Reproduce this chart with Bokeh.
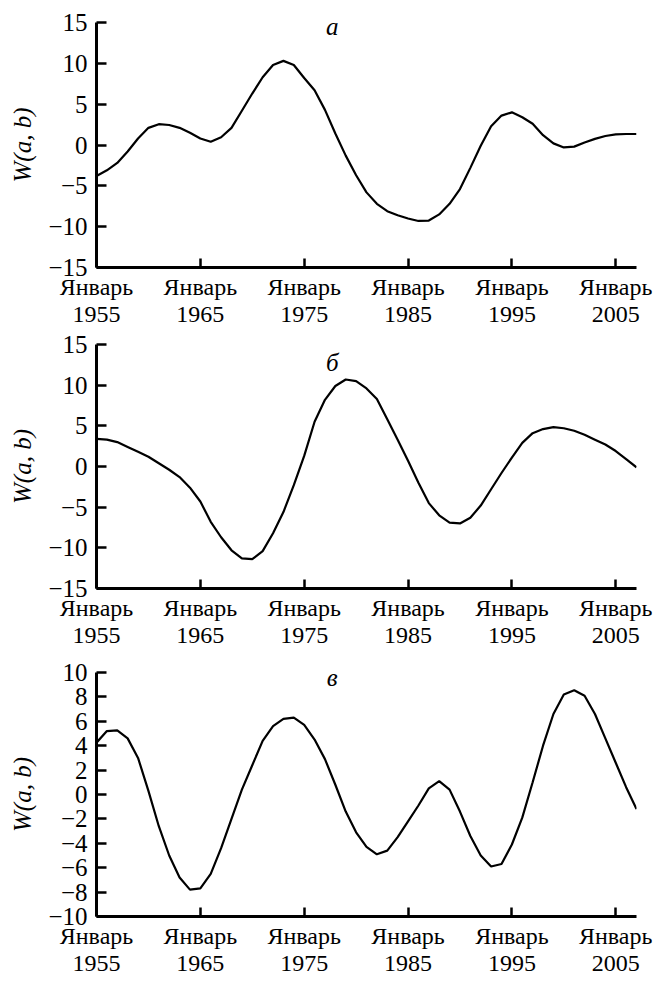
from bokeh.plotting import figure
from bokeh.layouts import column
from bokeh.models import FixedTicker, Range1d, Label
from bokeh.embed import file_html
from bokeh.resources import INLINE

years = list(range(1955, 2008))

series_a = [-3.8, -3.1, -2.2, -0.8, 0.8, 2.1, 2.55, 2.45, 2.1, 1.5,
            0.8, 0.4, 0.95, 2.1, 4.2, 6.3, 8.3, 9.8, 10.3, 9.8,
            8.2, 6.7, 4.3, 1.4, -1.3, -3.7, -5.8, -7.2, -8.1, -8.6,
            -9.0, -9.3, -9.25, -8.5, -7.2, -5.4, -2.8, -0.1, 2.3, 3.6,
            4.0, 3.4, 2.6, 1.2, 0.2, -0.3, -0.2, 0.3, 0.75, 1.1,
            1.3, 1.35, 1.35]

series_b = [3.4, 3.3, 3.0, 2.4, 1.8, 1.2, 0.4, -0.4, -1.3, -2.6,
            -4.3, -6.8, -8.7, -10.3, -11.3, -11.4, -10.4, -8.2, -5.6, -2.3,
            1.3, 5.5, 8.2, 9.9, 10.7, 10.5, 9.6, 8.3, 5.8, 3.3,
            0.7, -2.0, -4.5, -6.0, -6.9, -7.0, -6.3, -4.8, -2.8, -0.8,
            1.1, 2.9, 4.1, 4.6, 4.85, 4.7, 4.4, 3.9, 3.3, 2.7,
            1.9, 0.9, -0.1]

series_c = [4.25, 5.2, 5.25, 4.6, 3.0, 0.3, -2.6, -5.0, -6.8, -7.8,
            -7.7, -6.5, -4.4, -2.0, 0.4, 2.4, 4.4, 5.6, 6.2, 6.3,
            5.7, 4.5, 2.9, 0.8, -1.4, -3.1, -4.3, -4.9, -4.6, -3.5,
            -2.2, -0.9, 0.5, 1.1, 0.4, -1.4, -3.4, -5.0, -5.9, -5.7,
            -4.1, -1.9, 1.0, 4.0, 6.6, 8.2, 8.55, 8.1, 6.6, 4.6,
            2.6, 0.6, -1.2]

x_ticks = [1955, 1965, 1975, 1985, 1995, 2005]
x_tick_word = "Январь"
y_ticks_ab = [-15, -10, -5, 0, 5, 10, 15]
y_ticks_c = [-10, -8, -6, -4, -2, 0, 2, 4, 6, 8, 10]
panel_letters = ["а", "б", "в"]
y_label = "W(a, b)"

FONT = "Liberation Serif"
FS_X = "24px"
FS_Y = "25px"


def fmt(v):
    return ("\u2212" + str(abs(v))) if v < 0 else str(v)


def make_panel(vals, yticks, letter, letter_y, top, frame_h, bottom):
    p = figure(frame_width=540, frame_height=frame_h,
               output_backend="svg", toolbar_location=None,
               x_range=Range1d(1955, 2007),
               y_range=Range1d(yticks[0], yticks[-1]),
               min_border_left=96, min_border_right=22,
               min_border_top=top, min_border_bottom=bottom)
    p.outline_line_color = None
    p.background_fill_color = "white"
    p.border_fill_color = "white"
    p.xgrid.grid_line_color = None
    p.ygrid.grid_line_color = None

    p.line(years, vals, line_color="black", line_width=2.2)

    xa = p.xaxis[0]
    xa.ticker = FixedTicker(ticks=x_ticks)
    xa.major_label_overrides = {t: x_tick_word + "\n" + str(t) for t in x_ticks}
    xa.minor_tick_line_color = None
    xa.major_tick_in = 9
    xa.major_tick_out = 0
    xa.major_tick_line_width = 2.5
    xa.axis_line_width = 3
    xa.major_label_standoff = 6
    xa.major_label_text_font = FONT
    xa.major_label_text_font_size = FS_X
    xa.major_label_text_color = "black"
    xa.major_label_text_line_height = 1.05

    ya = p.yaxis[0]
    ya.ticker = FixedTicker(ticks=yticks)
    ya.major_label_overrides = {t: fmt(t) for t in yticks}
    ya.minor_tick_line_color = None
    ya.major_tick_in = 10
    ya.major_tick_out = 0
    ya.major_tick_line_width = 2.5
    ya.axis_line_width = 3
    ya.major_label_standoff = 9
    ya.major_label_text_font = FONT
    ya.major_label_text_font_size = FS_Y
    ya.major_label_text_color = "black"
    ya.axis_label = y_label
    ya.axis_label_text_font = FONT
    ya.axis_label_text_font_style = "italic"
    ya.axis_label_text_font_size = FS_Y
    ya.axis_label_text_color = "black"
    ya.axis_label_standoff = 9

    p.add_layout(Label(x=1977.7, y=letter_y, text=letter,
                       text_font=FONT, text_font_style="italic",
                       text_font_size=FS_Y, text_color="black",
                       text_align="center", text_baseline="middle"))
    return p


pa = make_panel(series_a, y_ticks_ab, panel_letters[0], 14.5, 22, 245, 63)
pb = make_panel(series_b, y_ticks_ab, panel_letters[1], 12.8, 14, 244, 67)
pc = make_panel(series_c, y_ticks_c, panel_letters[2], 9.6, 17, 244, 64)

layout = column(pa, pb, pc, spacing=0)
open("out.html", "w").write(file_html(layout, INLINE))
